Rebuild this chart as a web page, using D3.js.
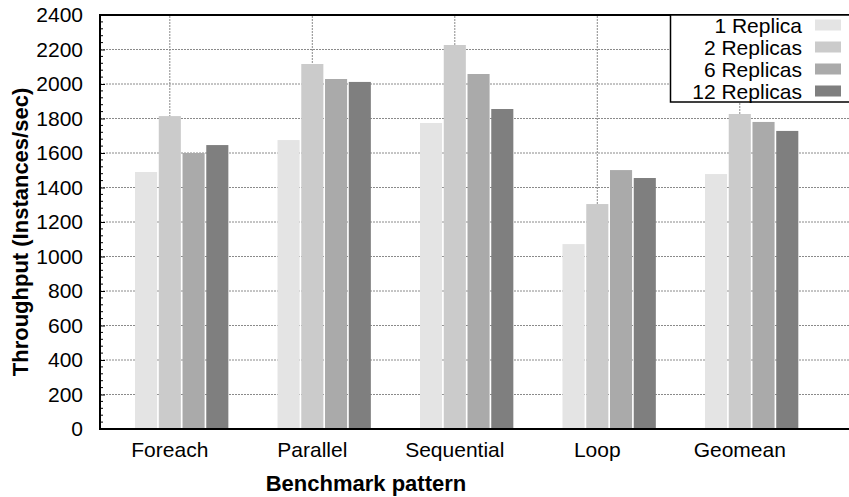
<!DOCTYPE html>
<html>
<head>
<meta charset="utf-8">
<script src="https://cdn.jsdelivr.net/npm/d3@7"></script>
<style>
  body { margin: 0; background: #fff; }
  svg { display: block; font-family: "Liberation Sans", Arial, sans-serif; }
</style>
</head>
<body>
<svg width="849" height="497"></svg>
<script>
// values
const categories = ["Foreach", "Parallel", "Sequential", "Loop", "Geomean"];
const seriesNames = ["1 Replica", "2 Replicas", "6 Replicas", "12 Replicas"];
const replica1 = [1490, 1675, 1774, 1072, 1478];
const replica2 = [1814, 2116, 2226, 1304, 1826];
const replica6 = [1600, 2029, 2058, 1501, 1780];
const replica12 = [1646, 2012, 1855, 1455, 1728];
const yTicks = [0, 200, 400, 600, 800, 1000, 1200, 1400, 1600, 1800, 2000, 2200, 2400];
const colors = ["#e4e4e4", "#cbcbcb", "#aaaaaa", "#7f7f7f"];

function createGraph() {
    const series = [replica1, replica2, replica6, replica12];
    const svg = d3.select("svg");

    // gnuplot style histogram: category tic sits under the 2nd bar
    const x = d3.scaleLinear().domain([-0.49, 4.77]).range([100, 849.5]);
    const y = d3.scaleLinear().domain([0, 2400]).range([429, 15]);
    const step = 1 / 6, barW = 0.155;

    // grid
    const grid = svg.append("g");
    grid.selectAll("line.h").data(yTicks.slice(1, -1)).enter().append("line")
        .attr("x1", x(-0.49)).attr("x2", x(4.77))
        .attr("y1", d => y(d)).attr("y2", d => y(d))
        .attr("stroke", "#8a8a8a").attr("stroke-dasharray", "2,1");
    grid.selectAll("line.v").data(categories).enter().append("line")
        .attr("x1", (d, i) => x(i)).attr("x2", (d, i) => x(i))
        .attr("y1", y(0)).attr("y2", y(2400))
        .attr("stroke", "#8a8a8a").attr("stroke-dasharray", "2,1");

    // bars
    series.forEach(function (vals, s) {
        svg.append("g").selectAll("rect").data(vals).enter().append("rect")
            .attr("x", (d, i) => x(i + (s - 1) * step - barW / 2))
            .attr("width", x(barW) - x(0))
            .attr("y", d => y(d))
            .attr("height", d => y(0) - y(d))
            .attr("fill", colors[s]);
    });

    // frame
    svg.append("rect").attr("x", 100).attr("y", 15).attr("width", 752).attr("height", 414)
        .attr("fill", "none").attr("stroke", "#000").attr("stroke-width", 2);

    // y axis
    const yAxis = d3.axisLeft(y).tickValues(yTicks).tickSize(-5).tickPadding(17)
        .tickFormat(d3.format("d"));
    const gy = svg.append("g").attr("transform", "translate(100,0)").call(yAxis);
    gy.select(".domain").remove();
    gy.selectAll("text").attr("font-size", 21).attr("fill", "#000")
        .attr("font-family", "Liberation Sans, Arial, sans-serif");
    const minor = d3.range(0, 2400, 40).filter(v => v % 200 !== 0);
    svg.append("g").selectAll("line").data(minor).enter().append("line")
        .attr("x1", 100).attr("x2", 103)
        .attr("y1", d => y(d)).attr("y2", d => y(d)).attr("stroke", "#000");

    // x labels
    svg.append("g").selectAll("text").data(categories).enter().append("text")
        .attr("x", (d, i) => x(i)).attr("y", 457)
        .attr("text-anchor", "middle").attr("font-size", 21)
        .text(d => d);

    // axis titles
    svg.append("text").attr("x", 366).attr("y", 491)
        .attr("text-anchor", "middle").attr("font-size", 22).attr("font-weight", "bold")
        .text("Benchmark pattern");
    svg.append("text").attr("transform", "translate(28,232) rotate(-90)")
        .attr("text-anchor", "middle").attr("font-size", 22).attr("font-weight", "bold")
        .text("Throughput (Instances/sec)");

    // legend
    const lg = svg.append("g");
    lg.append("rect").attr("x", 670.5).attr("y", 15).attr("width", 180).attr("height", 87)
        .attr("fill", "#fff").attr("stroke", "#000").attr("stroke-width", 1.5);
    seriesNames.forEach(function (name, s) {
        const cy = 25 + s * 22;
        lg.append("text").attr("x", 802).attr("y", cy + 8)
            .attr("text-anchor", "end").attr("font-size", 21).text(name);
        lg.append("rect").attr("x", 815).attr("y", cy - 5.5).attr("width", 26).attr("height", 11)
            .attr("fill", colors[s]);
    });
}

createGraph();
</script>
</body>
</html>
